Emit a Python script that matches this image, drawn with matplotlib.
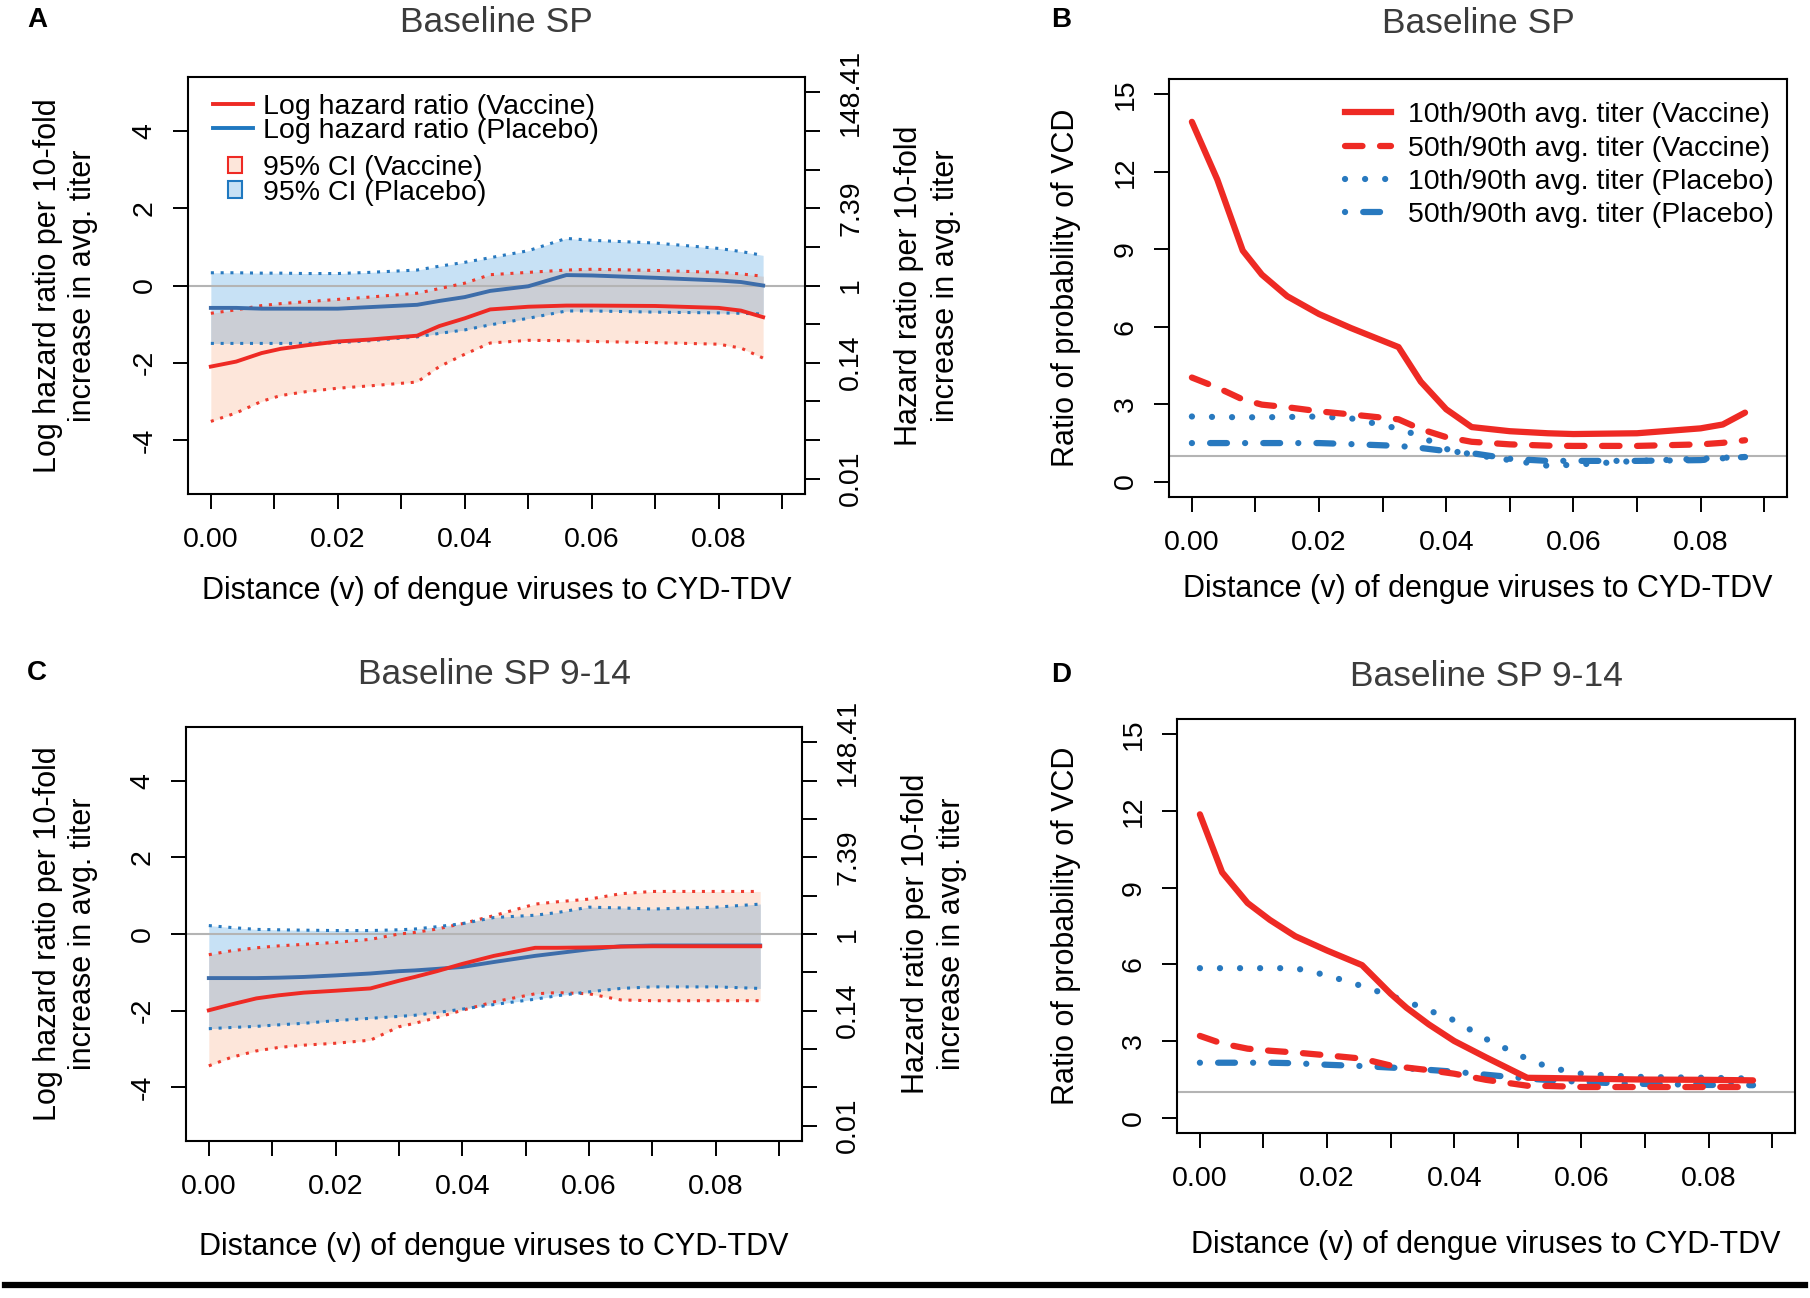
import numpy as np
import matplotlib
matplotlib.use('Agg')
import matplotlib.pyplot as plt
from matplotlib.lines import Line2D
from matplotlib.patches import Patch

plt.rcParams['font.family'] = ['Liberation Sans', 'DejaVu Sans']

# ---------------- data ----------------
# panels A / B (Baseline SP)
dist_ab = [0, 0.004, 0.008, 0.011, 0.015, 0.02, 0.025, 0.0325, 0.036, 0.04,
           0.044, 0.05, 0.056, 0.06, 0.07, 0.08, 0.0835, 0.087]
a_vac_hr = [-2.1, -1.97, -1.75, -1.64, -1.55, -1.45, -1.40, -1.30, -1.05, -0.85,
            -0.62, -0.55, -0.52, -0.52, -0.53, -0.58, -0.65, -0.82]
a_vac_up = [-0.72, -0.63, -0.52, -0.47, -0.42, -0.36, -0.30, -0.20, -0.08, 0.06,
            0.28, 0.34, 0.40, 0.42, 0.39, 0.34, 0.30, 0.24]
a_vac_lo = [-3.52, -3.30, -3.0, -2.85, -2.75, -2.66, -2.60, -2.50, -2.10, -1.78,
            -1.49, -1.42, -1.43, -1.45, -1.48, -1.52, -1.62, -1.88]
a_pla_hr = [-0.58, -0.58, -0.6, -0.6, -0.6, -0.6, -0.56, -0.5, -0.4, -0.3,
            -0.14, -0.02, 0.27, 0.26, 0.2, 0.13, 0.09, 0.0]
a_pla_up = [0.33, 0.33, 0.32, 0.32, 0.31, 0.31, 0.34, 0.4, 0.5, 0.6,
            0.72, 0.9, 1.22, 1.17, 1.1, 0.96, 0.88, 0.78]
a_pla_lo = [-1.5, -1.5, -1.5, -1.5, -1.5, -1.48, -1.43, -1.33, -1.24, -1.15,
            -1.02, -0.85, -0.66, -0.66, -0.69, -0.71, -0.72, -0.74]

b_r10_vac = [13.94, 11.7, 8.95, 8.02, 7.18, 6.49, 5.95, 5.21, 3.87, 2.80,
             2.11, 1.95, 1.87, 1.84, 1.87, 2.06, 2.21, 2.67]
b_r50_vac = [4.03, 3.64, 3.18, 2.98, 2.88, 2.72, 2.60, 2.41, 2.03, 1.72,
             1.54, 1.44, 1.39, 1.38, 1.38, 1.44, 1.50, 1.60]
b_r10_pla = [2.52, 2.50, 2.49, 2.49, 2.50, 2.52, 2.45, 2.05, 1.75, 1.26,
             1.05, 0.83, 0.61, 0.65, 0.80, 0.88, 0.92, 0.95]
b_r50_pla = [1.49, 1.49, 1.49, 1.49, 1.49, 1.49, 1.45, 1.38, 1.30, 1.18,
             1.10, 0.88, 0.80, 0.80, 0.80, 0.83, 0.90, 0.95]

# panels C / D (Baseline SP 9-14)
dist_cd = [0, 0.0035, 0.0075, 0.011, 0.015, 0.02, 0.0255, 0.03, 0.0325, 0.036,
           0.04, 0.045, 0.0515, 0.055, 0.06, 0.065, 0.07, 0.08, 0.087]
c_vac_hr = [-1.99, -1.84, -1.68, -1.6, -1.53, -1.48, -1.42, -1.22, -1.12, -0.97,
            -0.78, -0.57, -0.36, -0.36, -0.35, -0.33, -0.32, -0.32, -0.32]
c_vac_up = [-0.54, -0.44, -0.36, -0.31, -0.27, -0.22, -0.14, 0.0, 0.04, 0.13,
            0.27, 0.48, 0.78, 0.84, 0.91, 1.05, 1.11, 1.11, 1.11]
c_vac_lo = [-3.44, -3.22, -3.05, -2.96, -2.9, -2.85, -2.77, -2.42, -2.33, -2.18,
            -1.99, -1.77, -1.56, -1.53, -1.56, -1.72, -1.74, -1.74, -1.74]
c_pla_hr = [-1.15, -1.15, -1.15, -1.14, -1.12, -1.08, -1.03, -0.97, -0.95, -0.91,
            -0.86, -0.73, -0.57, -0.5, -0.40, -0.32, -0.30, -0.30, -0.30]
c_pla_up = [0.22, 0.17, 0.12, 0.11, 0.1, 0.09, 0.09, 0.11, 0.13, 0.19,
            0.27, 0.43, 0.49, 0.56, 0.70, 0.68, 0.65, 0.70, 0.78]
c_pla_lo = [-2.47, -2.44, -2.41, -2.37, -2.33, -2.26, -2.2, -2.15, -2.12, -2.05,
            -1.96, -1.84, -1.70, -1.61, -1.51, -1.42, -1.38, -1.38, -1.42]

d_r10_vac = [11.87, 9.6, 8.4, 7.74, 7.10, 6.54, 5.97, 4.85, 4.3, 3.65,
             3.00, 2.36, 1.56, 1.55, 1.53, 1.51, 1.49, 1.48, 1.46]
d_r50_vac = [3.20, 2.9, 2.7, 2.62, 2.55, 2.44, 2.31, 2.04, 1.96, 1.86,
             1.72, 1.48, 1.25, 1.24, 1.20, 1.20, 1.20, 1.20, 1.20]
d_r10_pla = [5.85, 5.85, 5.85, 5.85, 5.85, 5.57, 5.15, 4.77, 4.55, 4.2,
             3.81, 3.08, 2.3, 1.96, 1.72, 1.64, 1.59, 1.56, 1.53]
d_r50_pla = [2.15, 2.15, 2.15, 2.15, 2.13, 2.07, 2.02, 1.96, 1.93, 1.87,
             1.80, 1.68, 1.53, 1.47, 1.40, 1.35, 1.32, 1.28, 1.27]

x_ticks = [0, 0.01, 0.02, 0.03, 0.04, 0.05, 0.06, 0.07, 0.08, 0.09]
x_ticklabels = ['0.00', '', '0.02', '', '0.04', '', '0.06', '', '0.08', '']
hr_ticks = [-4, -2, 0, 2, 4]
hr_right_ticks = [-5, -4, -3, -2, -1, 0, 1, 2, 3, 4, 5]
hr_right_labels = ['0.01', '', '', '0.14', '', '1', '', '7.39', '', '', '148.41']
ratio_ticks = [0, 3, 6, 9, 12, 15]

xlabel = 'Distance (v) of dengue viruses to CYD-TDV'
hr_ylabel = 'Log hazard ratio per 10-fold\nincrease in avg. titer'
hr_ylabel2 = 'Hazard ratio per 10-fold\nincrease in avg. titer'
ratio_ylabel = 'Ratio of probability of VCD'
hr_legend = ['Log hazard ratio (Vaccine)', 'Log hazard ratio (Placebo)']
ci_legend = ['95% CI (Vaccine)', '95% CI (Placebo)']
ratio_legend = ['10th/90th avg. titer (Vaccine)', '50th/90th avg. titer (Vaccine)',
                '10th/90th avg. titer (Placebo)', '50th/90th avg. titer (Placebo)']

# ---------------- style ----------------
red = '#EE2A24'
red_dot = '#EE3B2E'
blue_line = '#3D6DAA'
blue = '#2879BF'
peach = '#FDE6DA'
lightblue = '#C7E1F5'
overlap = '#CBCED5'
hcol = '#B4B4B4'
FS_TICK = 20.5
FS_LAB = 22
FS_LEG = 20.5

W, H = 1810, 1298
fig = plt.figure(figsize=(W / 100, H / 100), dpi=100)


def box(l, t, r, b):
    return [l / W, 1 - b / H, (r - l) / W, (b - t) / H]


def base_axes(ax, ylim, yticks, xlab_y, ylab_x, ylab):
    ax.set_xlim(-0.0036, 0.0936)
    ax.set_ylim(ylim)
    ax.set_xticks(x_ticks)
    ax.set_xticklabels(x_ticklabels)
    ax.set_yticks(yticks)
    ax.set_yticklabels([str(t) for t in yticks])
    ax.tick_params(axis='x', direction='out', length=11, width=1.4,
                   labelsize=FS_TICK, pad=13)
    ax.tick_params(axis='y', direction='out', length=11, width=1.4,
                   labelsize=FS_TICK, pad=11)
    for lab in ax.get_yticklabels():
        lab.set_rotation(90)
        lab.set_va('center')
    for s in ax.spines.values():
        s.set_linewidth(1.5)
    ax.set_xlabel(xlabel, fontsize=FS_LAB)
    ax.xaxis.set_label_coords(0.5, xlab_y)
    ax.set_ylabel(ylab, fontsize=FS_LAB)
    ax.yaxis.set_label_coords(ylab_x, 0.5)


def hr_panel(ax, x, vhr, vup, vlo, phr, pup, plo, title, ttl_y, xlab_y,
             ylab_x, ylab2_x, legend):
    x = np.array(x)
    vup, vlo, pup, plo = map(np.array, (vup, vlo, pup, plo))
    ax.fill_between(x, vlo, vup, color=peach, lw=0)
    ax.fill_between(x, plo, pup, color=lightblue, lw=0)
    lo = np.maximum(vlo, plo)
    hi = np.minimum(vup, pup)
    ax.fill_between(x, lo, hi, where=hi > lo, interpolate=True, color=overlap, lw=0)
    ax.axhline(0, color=hcol, lw=1.5)
    dot = (0, (1, 2.2))
    ax.plot(x, vup, color=red_dot, lw=2.2, ls=dot)
    ax.plot(x, vlo, color=red_dot, lw=2.2, ls=dot)
    ax.plot(x, pup, color=blue, lw=2.2, ls=dot)
    ax.plot(x, plo, color=blue, lw=2.2, ls=dot)
    ax.plot(x, phr, color=blue_line, lw=2.8)
    ax.plot(x, vhr, color=red, lw=2.8)
    base_axes(ax, (-5.4, 5.4), hr_ticks, xlab_y, ylab_x, hr_ylabel)
    ax.text(0.5, ttl_y, title, transform=ax.transAxes, ha='center', va='center',
            fontsize=25.5, color='#3c3c3c')

    ax2 = ax.twinx()
    ax2.set_ylim(ax.get_ylim())
    ax2.set_yticks(hr_right_ticks)
    ax2.set_yticklabels(hr_right_labels)
    ax2.tick_params(axis='y', direction='out', length=11, width=1.4,
                    labelsize=FS_TICK, pad=13)
    for lab in ax2.get_yticklabels():
        lab.set_rotation(90)
        lab.set_va('center')
    for s in ax2.spines.values():
        s.set_visible(False)
    ax2.set_ylabel(hr_ylabel2, fontsize=FS_LAB, linespacing=1.3)
    ax2.yaxis.set_label_coords(ylab2_x, 0.5)

    if legend:
        h1 = [Line2D([], [], color=red, lw=2.8), Line2D([], [], color='#1F78C0', lw=2.8)]
        leg1 = ax2.legend(h1, hr_legend, loc='upper left', bbox_to_anchor=(0.04, 0.960),
                          frameon=False, fontsize=FS_LEG, handlelength=1.4,
                          handletextpad=0.35, labelspacing=-0.05, borderpad=0,
                          borderaxespad=0)
        ax2.add_artist(leg1)
        h2 = [Patch(fc=peach, ec=red, lw=1.5), Patch(fc=lightblue, ec='#1F78C0', lw=1.5)]
        ax2.legend(h2, ci_legend, loc='upper left', bbox_to_anchor=(0.065, 0.813),
                   frameon=False, fontsize=FS_LEG, handlelength=0.5, handleheight=0.5,
                   handletextpad=0.74, labelspacing=-0.05, borderpad=0, borderaxespad=0)


def ratio_panel(ax, x, r10v, r50v, r10p, r50p, title, ttl_y, xlab_y, ylab_x, legend):
    ax.axhline(1, color=hcol, lw=1.5)
    styles = [
        dict(color=red, ls='-'),
        dict(color=red, ls=(0, (2.8, 2.8)), dash_capstyle='round'),
        dict(color=blue, ls=(0, (0.01, 3.2)), dash_capstyle='round'),
        dict(color=blue, ls=(0, (0.01, 2.9, 2.7, 2.9)), dash_capstyle='round'),
    ]
    for y, st in zip([r10p, r50p, r50v, r10v], [styles[2], styles[3], styles[1], styles[0]]):
        ax.plot(x, y, lw=4.5, solid_capstyle='round', **st)
    base_axes(ax, (-0.6, 15.6), ratio_ticks, xlab_y, ylab_x, ratio_ylabel)
    ax.text(0.5, ttl_y, title, transform=ax.transAxes, ha='center', va='center',
            fontsize=25.5, color='#3c3c3c')
    if legend:
        hs = [Line2D([], [], lw=4.5, **st) for st in styles]
        ax.legend(hs, ratio_legend, loc='upper left', bbox_to_anchor=(0.285, 0.944),
                  frameon=False, fontsize=FS_LEG, handlelength=1.6, handletextpad=0.6,
                  labelspacing=0.25, borderpad=0, borderaxespad=0)


axA = fig.add_axes(box(188, 77, 805, 494))
hr_panel(axA, dist_ab, a_vac_hr, a_vac_up, a_vac_lo, a_pla_hr, a_pla_up, a_pla_lo,
         'Baseline SP', 1 + 55 / 417, -0.197, -0.146, 1.145, True)

axB = fig.add_axes(box(1169, 79, 1787, 497))
ratio_panel(axB, dist_ab, b_r10_vac, b_r50_vac, b_r10_pla, b_r50_pla,
            'Baseline SP', 1 + 56 / 418, -0.185, -0.142, True)

axC = fig.add_axes(box(186, 727, 802, 1141))
hr_panel(axC, dist_cd, c_vac_hr, c_vac_up, c_vac_lo, c_pla_hr, c_pla_up, c_pla_lo,
         'Baseline SP 9-14', 1 + 52 / 414, -0.219, -0.143, 1.16, False)

axD = fig.add_axes(box(1177, 719, 1795, 1133))
ratio_panel(axD, dist_cd, d_r10_vac, d_r50_vac, d_r10_pla, d_r50_pla,
            'Baseline SP 9-14', 1 + 43 / 414, -0.235, -0.155, False)

for letter, (px, py) in zip('ABCD', [(37, 20), (1061, 20), (37, 673), (1061, 675)]):
    fig.text(px / W, 1 - py / H, letter, fontsize=20, fontweight='bold',
             ha='center', va='center')

fig.add_artist(Line2D([0.003, 0.997], [1 - 1285 / H, 1 - 1285 / H],
                      transform=fig.transFigure, color='black', lw=4.5))

fig.savefig('out.png', dpi=100)
